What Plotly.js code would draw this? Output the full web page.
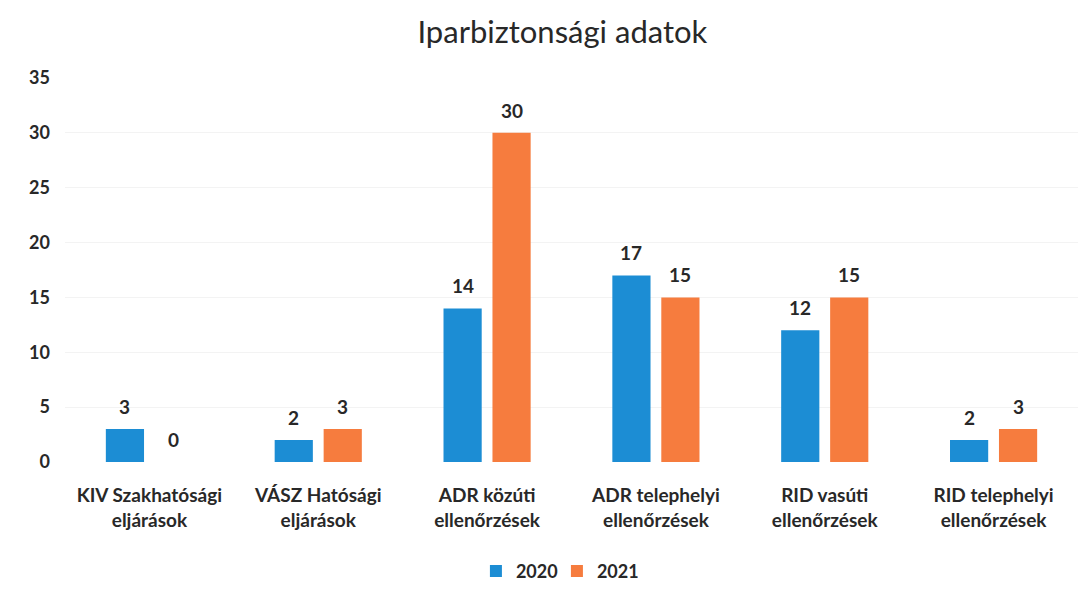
<!DOCTYPE html>
<html>
<head>
<meta charset="utf-8">
<script src="https://cdn.plot.ly/plotly-3.0.1.min.js"></script>
<style>
  html, body { margin: 0; padding: 0; background: #fff; }
  #chart { width: 1092px; height: 589px; }
</style>
</head>
<body>
<div id="chart"></div>
<script>
const categories = [
  'KIV Szakhatósági<br>eljárások',
  'VÁSZ Hatósági<br>eljárások',
  'ADR közúti<br>ellenőrzések',
  'ADR telephelyi<br>ellenőrzések',
  'RID vasúti<br>ellenőrzések',
  'RID telephelyi<br>ellenőrzések'
]
const values2020 = [3, 2, 14, 17, 12, 2]
const values2021 = [0, 3, 30, 15, 15, 3]

const colorBlue = 'rgb(28,141,212)'
const colorOrange = 'rgb(246,124,62)'
const colorText = 'rgb(40,40,40)'
const fontFamily = 'Lato, "Open Sans", sans-serif'

const labelFont = { family: fontFamily, size: 19, color: colorText, weight: 'bold' }

// half of one bar slot inside a group, so the value labels sit over their bar
const barOffset = 24.5

const data = [
  {
    x: categories,
    y: values2020,
    type: 'bar',
    name: '2020',
    marker: { color: colorBlue },
    hoverinfo: 'none'
  },
  {
    x: categories,
    y: values2021,
    type: 'bar',
    name: '2021',
    marker: { color: colorOrange },
    hoverinfo: 'none'
  }
]

const valueLabels = (values, shift) => values.map((v, i) => ({
  x: categories[i],
  y: v,
  xref: 'x',
  yref: 'y',
  text: String(v),
  showarrow: false,
  xshift: shift,
  yshift: 9,
  yanchor: 'bottom',
  font: labelFont
}))

const layout = {
  width: 1092,
  height: 589,
  title: {
    text: 'Iparbiztonsági adatok',
    font: { family: fontFamily, size: 31, color: colorText },
    x: 0.515,
    xanchor: 'center',
    y: 0.945,
    yanchor: 'middle'
  },
  margin: { l: 65, r: 14, t: 78, b: 127 },
  barmode: 'group',
  bargap: 0.42,
  bargroupgap: 0.22,
  xaxis: {
    tickfont: { family: fontFamily, size: 19, color: colorText, weight: 'bold' },
    showline: false,
    showgrid: false,
    ticks: '',
    ticklabelstandoff: 20,
    automargin: false
  },
  yaxis: {
    range: [0, 35],
    dtick: 5,
    tickfont: { family: fontFamily, size: 18, color: colorText, weight: 'bold' },
    gridcolor: 'rgb(243,243,243)',
    zeroline: false,
    ticks: '',
    ticklabelstandoff: 14,
    automargin: false
  },
  annotations: [
    ...valueLabels(values2020, -barOffset),
    ...valueLabels(values2021, barOffset)
  ],
  showlegend: true,
  legend: {
    orientation: 'h',
    x: 0.51,
    xref: 'container',
    xanchor: 'center',
    y: 0.03,
    yref: 'container',
    yanchor: 'middle',
    font: { family: fontFamily, size: 18, color: colorText, weight: 'bold' },
    itemwidth: 30,
    entrywidth: 36
  },
  paper_bgcolor: '#ffffff',
  plot_bgcolor: '#ffffff'
}

Plotly.newPlot('chart', data, layout, { staticPlot: true })
</script>
</body>
</html>
